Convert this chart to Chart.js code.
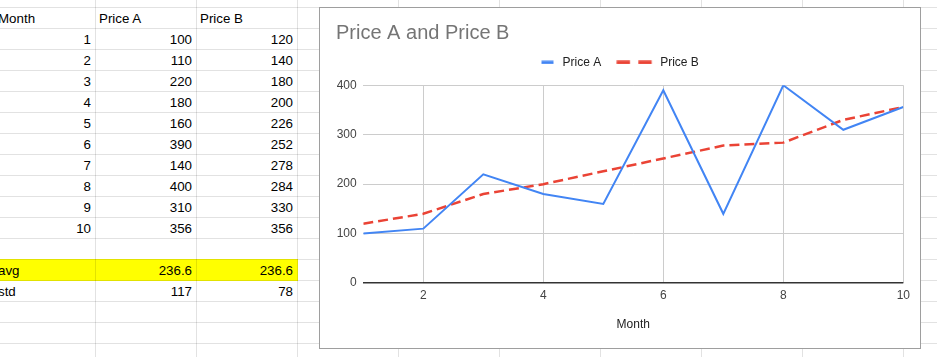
<!DOCTYPE html>
<html>
<head>
<meta charset="utf-8">
<script src="https://cdn.jsdelivr.net/npm/chart.js"></script>
<style>
  html, body { margin: 0; padding: 0; background: #fff; }
  body { width: 937px; height: 357px; overflow: hidden; position: relative;
         font-family: "Liberation Sans", Arial, sans-serif; }
  .gl { position: absolute; background: rgba(0,0,0,0.115); z-index: 2; }
  .cell { position: absolute; height: 20px; line-height: 21px; font-size: 13.33px;
          color: #000; white-space: nowrap; box-sizing: border-box; z-index: 1; }
  .cell.l { text-align: left; padding-left: 3px; }
  .cell.r { text-align: right; padding-right: 4px; }
  .hlbg { position: absolute; background: #ffff00; z-index: 0; }
  #chartBox { position: absolute; left: 319px; top: 7px; width: 602px; height: 342px;
              border: 1px solid #9e9e9e; box-sizing: border-box; background: #fff; z-index: 5; }
  #chartBox canvas { position: absolute; left: 0; top: 0; }
</style>
</head>
<body>
<div id="sheet"></div>
<div id="chartBox"><canvas id="c" width="600" height="340"></canvas></div>
<script>
// ---- data ----
const months = [1, 2, 3, 4, 5, 6, 7, 8, 9, 10];
const priceA = [100, 110, 220, 180, 160, 390, 140, 400, 310, 356];
const priceB = [120, 140, 180, 200, 226, 252, 278, 284, 330, 356];
const headers = ['Month', 'Price A', 'Price B'];
const summaryLabels = ['avg', 'std'];
const avgValues = [236.6, 236.6];
const stdValues = [117, 78];
const seriesNames = ['Price A', 'Price B'];
const chartTitle = 'Price A and Price B';
const xAxisTitle = 'Month';
const xTickValues = [2, 4, 6, 8, 10];
const yTickValues = [0, 100, 200, 300, 400];

// ---- spreadsheet ----
const sheet = document.getElementById('sheet');
const COL0 = -6, COLW = 101, ROW0 = 7, ROWH = 21;
for (let k = 0; k < 10; k++) {
  const x = COL0 + COLW * k;
  if (x < 0 || x > 937) continue;
  const d = document.createElement('div');
  d.className = 'gl';
  d.style.cssText = `left:${x}px;top:0;width:1px;height:357px;`;
  sheet.appendChild(d);
}
for (let k = 0; k < 17; k++) {
  const y = ROW0 + ROWH * k;
  const d = document.createElement('div');
  d.className = 'gl';
  d.style.cssText = `left:0;top:${y}px;width:937px;height:1px;`;
  sheet.appendChild(d);
}
function cell(col, row, text, align, hl) {
  if (hl) {
    const b = document.createElement('div');
    b.className = 'hlbg';
    b.style.left = (COL0 + COLW * col) + 'px';
    b.style.top = (ROW0 + ROWH * row) + 'px';
    b.style.width = (COLW + 1) + 'px';
    b.style.height = (ROWH + 1) + 'px';
    sheet.appendChild(b);
  }
  const d = document.createElement('div');
  d.className = 'cell ' + align;
  d.style.left = (COL0 + COLW * col + 1) + 'px';
  d.style.top = (ROW0 + ROWH * row + 1) + 'px';
  d.style.width = (COLW - 1) + 'px';
  d.textContent = text;
  sheet.appendChild(d);
}
headers.forEach((h, i) => cell(i, 0, h, 'l'));
months.forEach((m, i) => {
  cell(0, i + 1, String(m), 'r');
  cell(1, i + 1, String(priceA[i]), 'r');
  cell(2, i + 1, String(priceB[i]), 'r');
});
const avgRow = months.length + 2, stdRow = months.length + 3;
cell(0, avgRow, summaryLabels[0], 'l', true);
cell(1, avgRow, String(avgValues[0]), 'r', true);
cell(2, avgRow, String(avgValues[1]), 'r', true);
cell(0, stdRow, summaryLabels[1], 'l');
cell(1, stdRow, String(stdValues[0]), 'r');
cell(2, stdRow, String(stdValues[1]), 'r');

// ---- legend swatches ----
function swatchSolid(color) {
  const c = document.createElement('canvas');
  c.width = 16; c.height = 4;
  const g = c.getContext('2d');
  g.fillStyle = color;
  g.fillRect(1, 0.5, 12, 3.3);
  return c;
}
function swatchDashed(color) {
  const c = document.createElement('canvas');
  c.width = 60; c.height = 4;
  const g = c.getContext('2d');
  g.fillStyle = color;
  g.fillRect(0.5, 0.3, 13.3, 3.6);
  g.fillRect(22.2, 0.3, 13.3, 3.6);
  return c;
}
const BLUE = '#4285F4', RED = '#EA4335';
const swatches = [swatchSolid(BLUE), swatchDashed(RED)];

// ---- chart ----
Chart.defaults.font.family = '"Liberation Sans", Arial, sans-serif';
const tickFont = { size: 12 };
new Chart(document.getElementById('c'), {
  type: 'line',
  data: {
    datasets: [
      { label: seriesNames[0], data: months.map((m, i) => ({ x: m, y: priceA[i] })),
        borderColor: BLUE, backgroundColor: BLUE, borderWidth: 2, pointRadius: 0, tension: 0 },
      { label: seriesNames[1], data: months.map((m, i) => ({ x: m, y: priceB[i] })),
        borderColor: RED, backgroundColor: RED, borderWidth: 2.5, borderDash: [10, 5],
        pointRadius: 0, tension: 0 }
    ]
  },
  options: {
    responsive: false,
    animation: false,
    devicePixelRatio: 1,
    layout: { padding: { left: 16, right: 16.7, top: 0, bottom: 0 } },
    plugins: {
      tooltip: { enabled: false },
      title: {
        display: true, text: chartTitle, align: 'start', color: '#757575',
        font: { size: 20, weight: 'normal' },
        padding: { top: 13.7, bottom: -26.4 }
      },
      legend: {
        display: true, position: 'top', align: 'center',
        labels: {
          usePointStyle: true, pointStyleWidth: 16, boxHeight: 12,
          padding: 37, color: '#222', font: { size: 12 },
          generateLabels(chart) {
            const items = Chart.defaults.plugins.legend.labels.generateLabels(chart);
            items.forEach((it, i) => { it.pointStyle = swatches[i]; });
            return items;
          }
        }
      }
    },
    scales: {
      x: {
        type: 'linear', position: 'bottom', min: months[0], max: months[months.length - 1],
        afterBuildTicks(s) { s.ticks = xTickValues.map(v => ({ value: v })); },
        afterFit(s) { s.height = 65; },
        grid: { color: '#cccccc', drawTicks: false },
        border: { display: false },
        ticks: { color: '#444', font: tickFont, padding: 5, maxRotation: 0, autoSkip: false },
        title: { display: true, text: xAxisTitle, color: '#222', font: { size: 12 },
                 padding: { top: 0, bottom: 16.2 } }
      },
      spacer: {
        type: 'linear', position: 'top', display: true,
        grid: { display: false, drawTicks: false },
        border: { display: false },
        ticks: { display: false },
        afterFit(s) { s.height = 7; }
      },
      y: {
        type: 'linear', min: yTickValues[0], max: yTickValues[yTickValues.length - 1],
        afterBuildTicks(s) { s.ticks = yTickValues.map(v => ({ value: v })); },
        afterFit(s) { s.width = 27.3; },
        grid: {
          drawTicks: false,
          color: ctx => (ctx.tick && ctx.tick.value === 0) ? '#333333' : '#cccccc',
          lineWidth: ctx => (ctx.tick && ctx.tick.value === 0) ? 1.5 : 1
        },
        border: { display: false },
        ticks: { color: '#444', font: tickFont, padding: 6.6 }
      }
    }
  }
});
</script>
</body>
</html>
